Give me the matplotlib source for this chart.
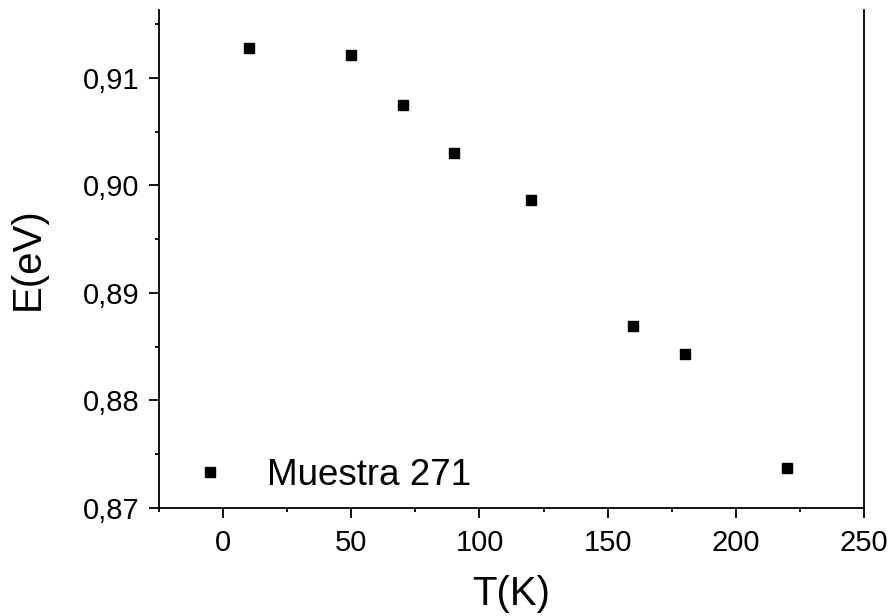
import matplotlib
matplotlib.use("Agg")
import matplotlib.pyplot as plt
from matplotlib.ticker import MultipleLocator, FuncFormatter

plt.rcParams['font.family'] = ['Liberation Sans', 'DejaVu Sans']

T_values = [10, 50, 70, 90, 120, 160, 180, 220]
E_values = [0.9128, 0.9121, 0.9075, 0.9030, 0.8986, 0.8869, 0.8843, 0.8737]
series_label = "Muestra 271"

fig = plt.figure(figsize=(8.95, 6.16), dpi=100)
ax = fig.add_axes([0.1777, 0.1753, 0.9654 - 0.1777, 0.9838 - 0.1753])

ax.plot(T_values, E_values, linestyle='none', marker='s', markersize=6.5,
        color='black', label=series_label)

ax.set_xlim(-25, 250)
ax.set_ylim(0.87, 0.9163)

ax.xaxis.set_major_locator(MultipleLocator(50))
ax.xaxis.set_minor_locator(MultipleLocator(25))
ax.yaxis.set_major_locator(MultipleLocator(0.01))
ax.yaxis.set_minor_locator(MultipleLocator(0.005))
ax.yaxis.set_major_formatter(FuncFormatter(lambda v, p: f"{v:.2f}".replace('.', ',')))

for s in ['left', 'bottom', 'right']:
    ax.spines[s].set_linewidth(1.3)
ax.spines['top'].set_visible(False)

ax.tick_params(axis='both', which='major', direction='out', length=7.2, width=1.3,
               labelsize=21, right=False, top=False)
ax.tick_params(axis='x', which='major', pad=8)
ax.tick_params(axis='y', which='major', pad=7)
ax.tick_params(axis='both', which='minor', direction='out', length=3, width=1.3,
               right=False, top=False)

ax.set_xlabel("T(K)", fontsize=29, labelpad=13)
ax.set_ylabel("E(eV)", fontsize=29, labelpad=26)

ax.legend(loc='lower left', frameon=False, fontsize=26.5, handlelength=1.0,
          handletextpad=1.03, borderaxespad=0.0, markerscale=1.1,
          bbox_to_anchor=(0.026, 0.0))

fig.savefig("out.png", dpi=100)
